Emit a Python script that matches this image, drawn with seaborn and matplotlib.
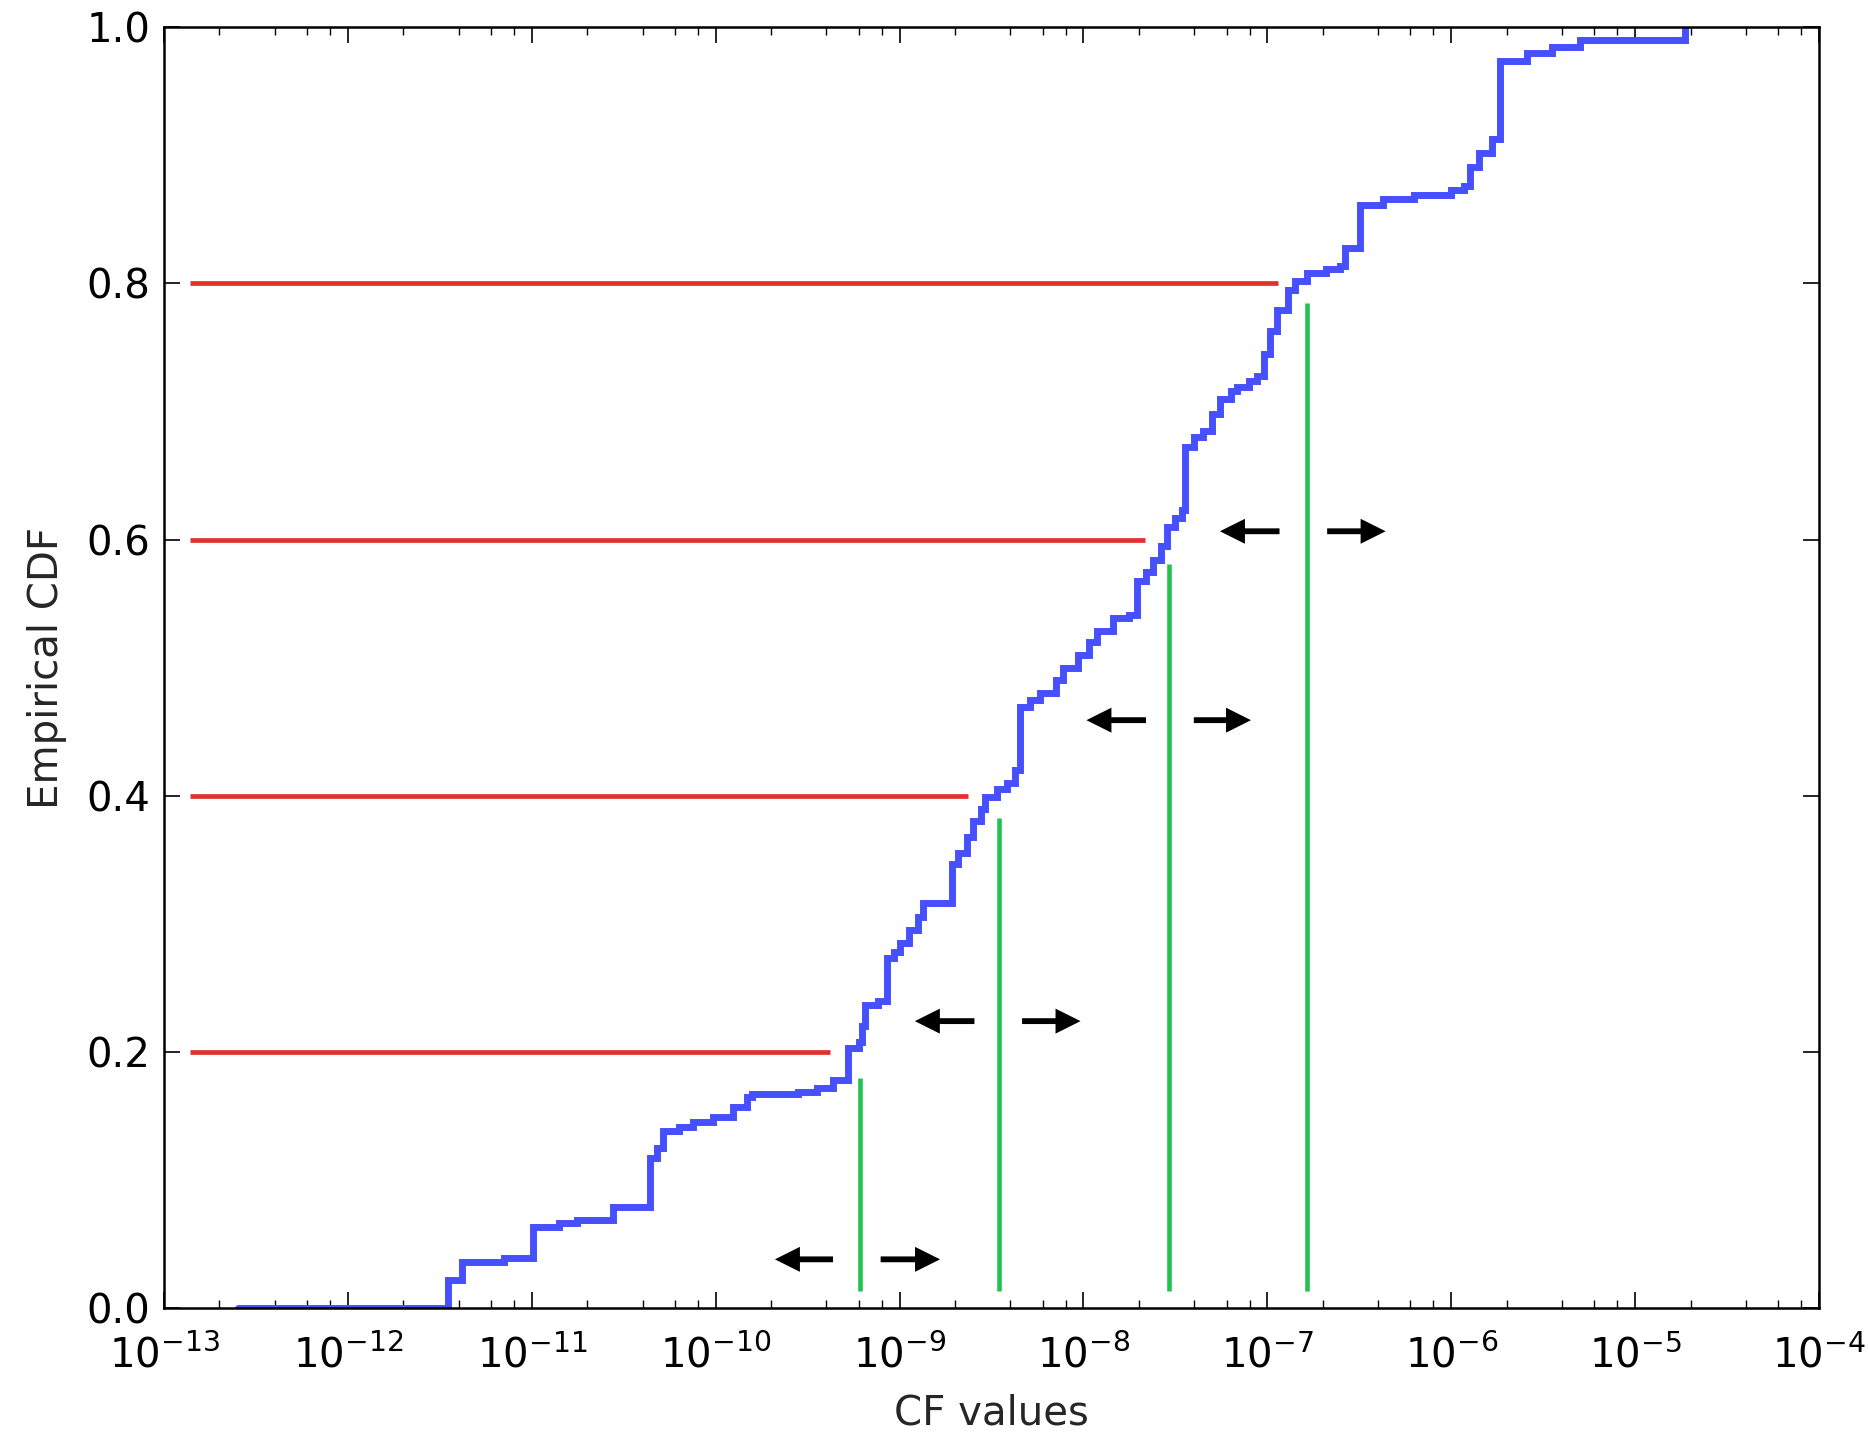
import numpy as np
import matplotlib
matplotlib.use("Agg")
import matplotlib.pyplot as plt
import matplotlib.ticker as mticker
import seaborn as sns

# ---- data ----
# step curve: log10(CF value) at each step, and CDF value after the step
cdf_log10_x = [-12.60, -11.456, -11.381, -11.15, -10.993, -10.85, -10.754, -10.558,
               -10.357, -10.32, -10.287, -10.20, -10.123, -10.015, -9.906, -9.83,
               -9.80, -9.55, -9.449, -9.36, -9.28, -9.22, -9.205, -9.19, -9.12,
               -9.07, -9.03, -8.998, -8.95, -8.90, -8.873, -8.715, -8.68, -8.634,
               -8.60, -8.56, -8.535, -8.47, -8.416, -8.37, -8.345, -8.29, -8.237,
               -8.15, -8.11, -8.03, -7.97, -7.927, -7.84, -7.75, -7.71, -7.66,
               -7.62, -7.58, -7.546, -7.50, -7.464, -7.45, -7.40, -7.35, -7.30,
               -7.258, -7.20, -7.165, -7.10, -7.056, -7.02, -6.986, -6.95, -6.888,
               -6.85, -6.785, -6.68, -6.605, -6.58, -6.495, -6.37, -6.20, -6.00,
               -5.93, -5.90, -5.85, -5.78, -5.735, -5.588, -5.45, -5.30, -4.73]
cdf_values = [0.0, 0.022, 0.036, 0.039, 0.0635, 0.066, 0.069, 0.079,
              0.117, 0.125, 0.138, 0.141, 0.145, 0.149, 0.157, 0.165,
              0.167, 0.169, 0.1715, 0.178, 0.203, 0.208, 0.22, 0.2365, 0.24,
              0.273, 0.278, 0.285, 0.295, 0.305, 0.316, 0.347, 0.355, 0.368,
              0.38, 0.39, 0.399, 0.405, 0.41, 0.42, 0.469, 0.475, 0.48,
              0.49, 0.50, 0.51, 0.52, 0.529, 0.539, 0.541, 0.568, 0.575,
              0.584, 0.595, 0.61, 0.617, 0.623, 0.672, 0.68, 0.685, 0.698,
              0.71, 0.716, 0.719, 0.724, 0.728, 0.745, 0.763, 0.779, 0.795,
              0.802, 0.808, 0.811, 0.814, 0.828, 0.861, 0.866, 0.869, 0.873,
              0.876, 0.891, 0.902, 0.913, 0.974, 0.98, 0.985, 0.99, 1.0]

# red horizontal quantile lines
red_levels = [0.2, 0.4, 0.6, 0.8]
red_start_log10 = [-12.859, -12.859, -12.859, -12.859]
red_end_log10 = [-9.378, -8.628, -7.666, -6.942]

# green vertical lines
green_x_log10 = [-9.215, -8.459, -7.535, -6.784]
green_bottom = [0.013, 0.013, 0.013, 0.013]
green_top = [0.1795, 0.383, 0.581, 0.7845]

# arrow pairs
arrow_y = [0.038, 0.224, 0.459, 0.6065]
left_tail_log10 = [-9.362, -8.593, -7.660, -6.934]
left_head_log10 = [-9.678, -8.917, -7.984, -7.258]
right_tail_log10 = [-9.103, -8.334, -7.400, -6.675]
right_head_log10 = [-8.780, -8.016, -7.089, -6.357]

x_label = "CF values"
y_label = "Empirical CDF"

# ---- style ----
sns.set_style("ticks")
plt.rcParams["font.family"] = ["DejaVu Sans"]
plt.rcParams["mathtext.default"] = "regular"
plt.rcParams["axes.unicode_minus"] = False

fig = plt.figure(figsize=(18.68, 14.38), dpi=100)
ax = fig.add_axes([0.0878, 0.0904, 0.8860, 0.8906])

cf_x = np.power(10.0, cdf_log10_x)
sns.lineplot(x=cf_x, y=cdf_values, ax=ax, drawstyle="steps-post",
             estimator=None, sort=False, color="#4650ff", linewidth=5.0,
             solid_joinstyle="miter")

ax.hlines(red_levels, np.power(10.0, red_start_log10), np.power(10.0, red_end_log10),
          colors="#e0312a", linewidth=3.4)
ax.vlines(np.power(10.0, green_x_log10), green_bottom, green_top,
          colors="#22c24f", linewidth=3.3)

arrowprops = dict(facecolor="black", edgecolor="black", width=4.2,
                  headwidth=18, headlength=18, shrink=0.0, linewidth=0)
for y, lt, lh, rt, rh in zip(arrow_y, left_tail_log10, left_head_log10,
                             right_tail_log10, right_head_log10):
    ax.annotate("", xy=(10 ** lh, y), xytext=(10 ** lt, y), arrowprops=arrowprops)
    ax.annotate("", xy=(10 ** rh, y), xytext=(10 ** rt, y), arrowprops=arrowprops)

ax.set_xscale("log")
ax.set_xlim(1e-13, 1e-4)
ax.set_ylim(0.0, 1.0)
ax.xaxis.set_major_locator(mticker.LogLocator(base=10, numticks=20))
ax.xaxis.set_minor_locator(mticker.LogLocator(base=10, subs=[2, 4, 6, 8], numticks=40))
ax.xaxis.set_minor_formatter(mticker.NullFormatter())
ax.set_yticks([0.0, 0.2, 0.4, 0.6, 0.8, 1.0])
ax.yaxis.set_major_formatter(mticker.FormatStrFormatter("%.1f"))

for s in ax.spines.values():
    s.set_visible(True)
    s.set_linewidth(1.8)
    s.set_color("black")

ax.tick_params(which="both", direction="in", top=True, right=True,
               bottom=True, left=True, colors="black")
ax.tick_params(which="major", length=11.5, width=1.2, labelsize=29, pad=10)
ax.tick_params(axis="x", which="major", pad=20)
ax.tick_params(which="minor", length=5.8, width=1.0)

ax.set_xlabel(x_label, fontsize=29, labelpad=12)
ax.set_ylabel(y_label, fontsize=29, labelpad=14)
ax.grid(False)

fig.savefig("out.png", dpi=100, facecolor="white")
